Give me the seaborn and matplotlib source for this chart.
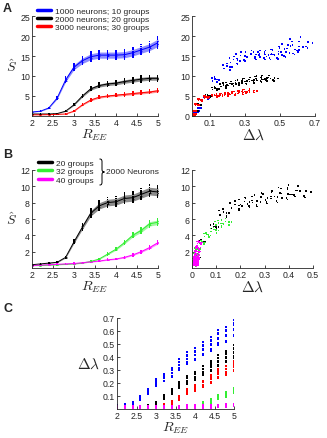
import numpy as np
import pandas as pd
import matplotlib
matplotlib.use("Agg")
import matplotlib.pyplot as plt
from matplotlib.path import Path
from matplotlib.patches import PathPatch
import seaborn as sns

# ---------------- data ----------------
R_EE = [2.0, 2.2, 2.4, 2.6, 2.8, 3.0, 3.2, 3.4, 3.6, 3.8, 4.0, 4.2, 4.4, 4.6, 4.8, 5.0]

# Panel A: S-hat vs R_EE
S_1000 = [1.0, 1.2, 2.0, 4.5, 9.0, 12.2, 13.8, 14.8, 15.2, 15.2, 15.2, 15.3, 15.8, 16.5, 17.2, 18.3]
S_2000 = [0.5, 0.5, 0.5, 0.6, 1.2, 2.8, 5.0, 6.8, 7.6, 8.0, 8.2, 8.6, 8.9, 9.2, 9.4, 9.4]
S_3000 = [0.3, 0.3, 0.35, 0.4, 0.5, 1.2, 2.8, 4.0, 4.7, 5.0, 5.2, 5.4, 5.6, 5.8, 6.0, 6.3]

# Panel B: S-hat vs R_EE (2000 neurons)
S_20 = [0.4, 0.5, 0.6, 0.7, 1.3, 3.2, 5.0, 6.7, 7.6, 8.0, 8.1, 8.5, 8.6, 9.0, 9.4, 9.3]
S_32 = [0.3, 0.3, 0.35, 0.4, 0.45, 0.5, 0.6, 0.8, 1.1, 1.7, 2.3, 3.1, 4.0, 4.6, 5.4, 5.6]
S_40 = [0.3, 0.35, 0.4, 0.45, 0.5, 0.55, 0.65, 0.75, 0.85, 1.0, 1.1, 1.3, 1.6, 2.0, 2.5, 3.1]

# Panel C: delta lambda vs R_EE
DL_1000 = [0.02, 0.025, 0.04, 0.08, 0.13, 0.20, 0.24, 0.28, 0.34, 0.39, 0.42, 0.46, 0.50, 0.55, 0.57, 0.62]
DL_2000 = [0.01, 0.01, 0.01, 0.012, 0.02, 0.04, 0.09, 0.13, 0.18, 0.22, 0.25, 0.29, 0.33, 0.37, 0.40, 0.44]
DL_3000 = [0.006, 0.006, 0.006, 0.008, 0.01, 0.012, 0.025, 0.045, 0.08, 0.13, 0.16, 0.19, 0.23, 0.27, 0.29, 0.33]
DL_32 = [0.01, 0.01, 0.01, 0.01, 0.01, 0.01, 0.01, 0.01, 0.012, 0.015, 0.02, 0.04, 0.06, 0.09, 0.11, 0.14]
DL_40 = [0.012, 0.012, 0.012, 0.012, 0.012, 0.012, 0.013, 0.013, 0.014, 0.015, 0.016, 0.017, 0.018, 0.02, 0.022, 0.028]

# Per-trial spread
S_TRIAL_DEV = [-0.07, -0.03, 0.0, 0.02, 0.05, -0.05, 0.08, 0.01]
DL_TRIAL_DEV = [0.05, -0.07, 0.09, -0.02, -0.09, 0.03, 0.0, 0.06]
DL_TRIAL_ABS = [0.006, -0.004, 0.011, 0.002, -0.006, 0.009, -0.002, 0.004]

LABELS_A = ["1000 neurons; 10 groups", "2000 neurons; 20 groups", "3000 neurons; 30 groups"]
LABELS_B = ["20 groups", "32 groups", "40 groups"]
COL_A = ["#0000ff", "#000000", "#ff0000"]
COL_B = ["#000000", "#33ee33", "#ff00ff"]

# ---------------- style ----------------
sns.set_style("ticks")
plt.rcParams["font.family"] = ["Liberation Sans", "DejaVu Sans"]
plt.rcParams["mathtext.fontset"] = "cm"
plt.rcParams["xtick.direction"] = "in"
plt.rcParams["ytick.direction"] = "in"
plt.rcParams["xtick.major.size"] = 2
plt.rcParams["ytick.major.size"] = 2
plt.rcParams["xtick.major.width"] = 0.6
plt.rcParams["ytick.major.width"] = 0.6
plt.rcParams["axes.linewidth"] = 0.6
plt.rcParams["xtick.major.pad"] = 1.5
plt.rcParams["ytick.major.pad"] = 1.5

TICK_FS = 6.3
W, H = 327, 439


def frame(x0, y0, x1, y1):
    return [x0 / W, 1 - y1 / H, (x1 - x0) / W, (y1 - y0) / H]


def fp(x, y):
    return (x / W, 1 - y / H)


def long_df(names, S_list, DL_list):
    rows = []
    for name, S, DL in zip(names, S_list, DL_list):
        for r, s, d in zip(R_EE, S, DL):
            for sd, ld, la in zip(S_TRIAL_DEV, DL_TRIAL_DEV, DL_TRIAL_ABS):
                dl = max(d * (1 + ld) + la, 0.003)
                rows.append({"R": r, "S": s * (1 + sd), "DL": dl, "cond": name})
    return pd.DataFrame(rows)


dfA = long_df(LABELS_A, [S_1000, S_2000, S_3000], [DL_1000, DL_2000, DL_3000])
dfB = long_df(LABELS_B, [S_20, S_32, S_40], [DL_2000, DL_32, DL_40])
palA = dict(zip(LABELS_A, COL_A))
palB = dict(zip(LABELS_B, COL_B))

fig = plt.figure(figsize=(W / 100, H / 100), dpi=100)

axA1 = fig.add_axes(frame(32, 17, 158, 117))
axA2 = fig.add_axes(frame(192, 17, 315, 117))
axB1 = fig.add_axes(frame(32, 171, 158, 269))
axB2 = fig.add_axes(frame(192, 171, 313, 269))
axC = fig.add_axes(frame(117, 319, 234, 410))


def curve_panel(ax, df, pal, hue_order):
    sns.lineplot(data=df, x="R", y="S", hue="cond", hue_order=hue_order, palette=pal,
                 errorbar="sd", err_kws={"alpha": 0.45, "linewidth": 0}, linewidth=0.7,
                 ax=ax, legend=False)
    sns.lineplot(data=df, x="R", y="S", hue="cond", hue_order=hue_order, palette=pal,
                 errorbar="se", err_style="bars", err_kws={"elinewidth": 0.6, "capsize": 0.8, "capthick": 0.5},
                 linewidth=0, ax=ax, legend=False)
    sns.scatterplot(data=df, x="R", y="S", hue="cond", hue_order=hue_order, palette=pal,
                    s=1.2, linewidth=0, marker="s", ax=ax, legend=False)


def scatter_panel(ax, df, pal, hue_order):
    sns.scatterplot(data=df, x="DL", y="S", hue="cond", hue_order=hue_order[::-1], palette=pal,
                    s=1.3, linewidth=0, marker="s", ax=ax, legend=False)


R_TICKS = [2, 2.5, 3, 3.5, 4, 4.5, 5]
R_TLAB = ["2", "2.5", "3", "3.5", "4", "4.5", "5"]

# ---------- Panel A ----------
curve_panel(axA1, dfA, palA, LABELS_A)
axA1.set_xlim(2, 5)
axA1.set_ylim(0, 25)
axA1.set_xticks(R_TICKS, R_TLAB)
axA1.set_yticks([5, 10, 15, 20, 25])
axA1.set_xlabel(r"$R_{EE}$", fontsize=10, labelpad=0)
axA1.set_ylabel(r"$\hat{S}$", fontsize=10, rotation=0, labelpad=6, va="center")
handles = [plt.Line2D([], [], color=c, lw=2.5) for c in COL_A]
axA1.legend(handles, LABELS_A, loc="upper left", bbox_to_anchor=(0.04, 1.09), frameon=False,
            fontsize=6, handlelength=1.7, handletextpad=0.4, labelspacing=0.05, borderaxespad=0,
            borderpad=0)

scatter_panel(axA2, dfA, palA, LABELS_A)
axA2.set_xlim(0, 0.7)
axA2.set_ylim(0, 25)
axA2.set_xticks([0.1, 0.3, 0.5, 0.7], ["0.1", "0.3", "0.5", "0.7"])
axA2.set_yticks([0, 5, 10, 15, 20, 25])
axA2.set_xlabel(r"$\Delta\lambda$", fontsize=11, labelpad=0)
axA2.set_ylabel("")

# ---------- Panel B ----------
curve_panel(axB1, dfB, palB, LABELS_B)
axB1.set_xlim(2, 5)
axB1.set_ylim(0, 12)
axB1.set_xticks(R_TICKS, R_TLAB)
axB1.set_yticks([2, 4, 6, 8, 10, 12])
axB1.set_xlabel(r"$R_{EE}$", fontsize=10, labelpad=0)
axB1.set_ylabel(r"$\hat{S}$", fontsize=10, rotation=0, labelpad=6, va="center")
handles = [plt.Line2D([], [], color=c, lw=2.5) for c in COL_B]
axB1.legend(handles, LABELS_B, loc="upper left", bbox_to_anchor=(0.05, 1.11), frameon=False,
            fontsize=6, handlelength=1.7, handletextpad=0.4, labelspacing=0.05, borderaxespad=0,
            borderpad=0)

# curly brace grouping the three legend entries
bx, top, mid, bot = 99.5, 160.0, 173.0, 186.0
verts = [fp(bx, top),
         fp(bx + 2.5, top), fp(bx + 2.5, top + 1), fp(bx + 2.5, top + 4),
         fp(bx + 2.5, mid - 3),
         fp(bx + 2.5, mid - 1), fp(bx + 3, mid), fp(bx + 5, mid),
         fp(bx + 3, mid), fp(bx + 2.5, mid + 1), fp(bx + 2.5, mid + 3),
         fp(bx + 2.5, bot - 4),
         fp(bx + 2.5, bot - 1), fp(bx + 2.5, bot), fp(bx, bot)]
codes = [Path.MOVETO,
         Path.CURVE4, Path.CURVE4, Path.CURVE4,
         Path.LINETO,
         Path.CURVE4, Path.CURVE4, Path.CURVE4,
         Path.CURVE4, Path.CURVE4, Path.CURVE4,
         Path.LINETO,
         Path.CURVE4, Path.CURVE4, Path.CURVE4]
fig.add_artist(PathPatch(Path(verts, codes), transform=fig.transFigure, facecolor="none",
                         edgecolor="black", linewidth=0.7))
fig.text(106 / W, 1 - 173 / H, "2000 Neurons", fontsize=6, va="center", ha="left")

scatter_panel(axB2, dfB, palB, LABELS_B)
axB2.set_xlim(0, 0.5)
axB2.set_ylim(0, 12)
axB2.set_xticks([0, 0.1, 0.2, 0.3, 0.4, 0.5], ["0", "0.1", "0.2", "0.3", "0.4", "0.5"])
axB2.set_yticks([2, 4, 6, 8, 10, 12])
axB2.set_xlabel(r"$\Delta\lambda$", fontsize=11, labelpad=0)
axB2.set_ylabel("")

# ---------- Panel C ----------
dfC = pd.concat([dfA, dfB[dfB["cond"] != "20 groups"]], ignore_index=True)
palC = {**palA, **palB}
orderC = LABELS_A + LABELS_B[1:]
sns.scatterplot(data=dfC, x="R", y="DL", hue="cond", hue_order=orderC, palette=palC,
                s=2.0, linewidth=0, marker="s", ax=axC, legend=False)
axC.set_xlim(2, 5)
axC.set_ylim(0, 0.7)
axC.set_xticks(R_TICKS, R_TLAB)
axC.set_yticks([0.1, 0.2, 0.3, 0.4, 0.5, 0.6, 0.7])
axC.set_xlabel(r"$R_{EE}$", fontsize=10, labelpad=0)
axC.set_ylabel(r"$\Delta\lambda$", fontsize=11, rotation=0, labelpad=10, va="center")

for ax in [axA1, axA2, axB1, axB2, axC]:
    sns.despine(ax=ax)
    ax.tick_params(labelsize=TICK_FS)

fig.text(3 / W, 1 - 9 / H, "A", fontsize=9, fontweight="bold", va="center")
fig.text(3 / W, 1 - 155 / H, "B", fontsize=9, fontweight="bold", va="center")
fig.text(3 / W, 1 - 309 / H, "C", fontsize=9, fontweight="bold", va="center")

fig.savefig("out.png", dpi=100)
